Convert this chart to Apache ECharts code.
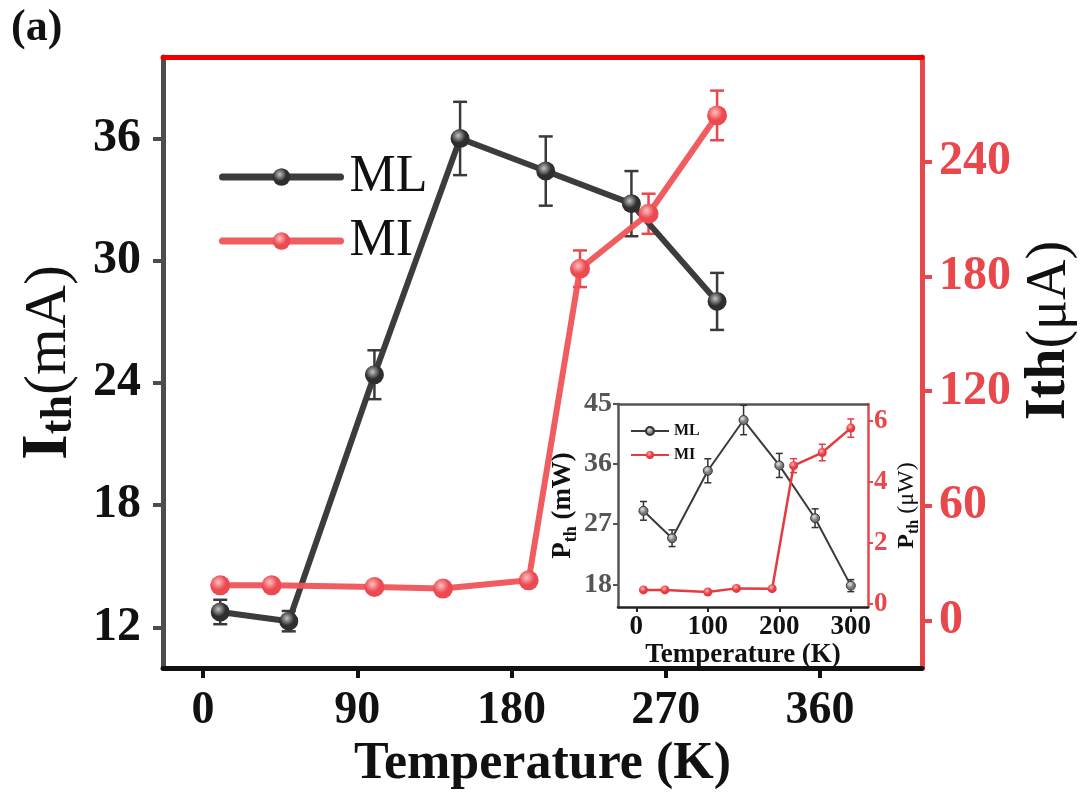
<!DOCTYPE html>
<html>
<head>
<meta charset="utf-8">
<script src="https://cdn.jsdelivr.net/npm/echarts@6/dist/echarts.min.js"></script>
<style>
  html, body { margin: 0; padding: 0; background: #fff; }
  #chart { width: 1080px; height: 799px; }
</style>
</head>
<body>
<div id="chart"></div>
<script>
// ---- Threshold current vs temperature (main panel) ----
const tempML = [10, 50, 100, 150, 200, 250, 300];
const ithML = [12.75, 12.3, 24.4, 36.0, 34.4, 32.8, 28.0];          // mA
const ithMLErr = [0.6, 0.5, 1.2, 1.8, 1.7, 1.6, 1.4];

const tempMI = [10, 40, 100, 140, 190, 220, 260, 300];
const ithMI = [18.3, 18.3, 17.4, 16.6, 20.9, 184.1, 212.9, 264.4];   // µA
const ithMIErr = [0, 0, 0, 0, 0, 9.6, 10.5, 13];

// ---- Threshold power vs temperature (inset) ----
const pTempML = [10, 50, 100, 150, 200, 250, 300];
const pML = [29.0, 24.9, 35.0, 42.6, 35.8, 27.9, 17.8];              // mW
const pMLErr = [1.4, 1.25, 1.8, 2.2, 1.8, 1.4, 0.9];

const pTempMI = [10, 40, 100, 140, 190, 220, 260, 300];
const pMI = [0.46, 0.46, 0.39, 0.51, 0.50, 4.53, 4.96, 5.76];         // µW
const pMIErr = [0, 0, 0, 0, 0, 0.23, 0.27, 0.3];

// ---- Tick labels ----
const xTicks = [0, 90, 180, 270, 360];
const yTicksLeft = [12, 18, 24, 30, 36];
const yTicksRight = [0, 60, 120, 180, 240];
const insetXTicks = [0, 100, 200, 300];
const insetYTicksLeft = [18, 27, 36, 45];
const insetYTicksRight = [0, 2, 4, 6];

const FONT = '"Liberation Serif", "Times New Roman", serif';
const GRAY_AXIS = '#4d4d4d';
const RED_AXIS = '#e8474c';
const RED_TOP = '#ee0000';
const ML_LINE = '#3c3c3c';
const MI_LINE = '#f05358';

const zip = (...cols) => cols[0].map((_, i) => cols.map(c => c[i]));

function sphere(light, dark) {
  return {
    type: 'radial', x: 0.4, y: 0.35, r: 0.7,
    colorStops: [{ offset: 0, color: light }, { offset: 0.55, color: dark }, { offset: 1, color: dark }]
  };
}

// vertical error bars with caps
function errorBars(color, capHalf, width) {
  return function (params, api) {
    const x = api.value(0), y = api.value(1), e = api.value(2);
    if (!e) return null;
    const top = api.coord([x, y + e]);
    const bot = api.coord([x, y - e]);
    const st = { stroke: color, lineWidth: width };
    return {
      type: 'group',
      children: [
        { type: 'line', shape: { x1: top[0], y1: top[1], x2: bot[0], y2: bot[1] }, style: st },
        { type: 'line', shape: { x1: top[0] - capHalf, y1: top[1], x2: top[0] + capHalf, y2: top[1] }, style: st },
        { type: 'line', shape: { x1: bot[0] - capHalf, y1: bot[1], x2: bot[0] + capHalf, y2: bot[1] }, style: st }
      ]
    };
  };
}

const chart = echarts.init(document.getElementById('chart'), null, { renderer: 'canvas' });

const option = {
  animation: false,
  backgroundColor: '#fff',
  textStyle: { fontFamily: FONT },
  title: {
    text: '(a)', left: 6, top: 2,
    textStyle: { fontFamily: FONT, fontSize: 44, fontWeight: 'bold', color: '#111' }
  },
  grid: [
    { left: 163, right: 158, top: 57, bottom: 131, containLabel: false, outerBoundsMode: 'none' },
    { left: 618, right: 212, top: 404, bottom: 192, containLabel: false, outerBoundsMode: 'none',
      show: true, backgroundColor: '#fff', borderWidth: 0 }
  ],
  legend: [
    {
      data: ['ML', 'MI'], orient: 'vertical', left: 214, top: 146,
      itemWidth: 118, itemHeight: 22, itemGap: 12,
      lineStyle: { width: 7, cap: 'round' },
      textStyle: { fontFamily: FONT, fontSize: 52, color: '#111', padding: [0, 0, 0, 4] }
    },
    {
      data: ['Pth ML', 'Pth MI'], orient: 'vertical', left: 625, top: 418,
      itemWidth: 38, itemHeight: 10, itemGap: 8,
      lineStyle: { width: 2 },
      formatter: n => n.replace('Pth ', ''),
      textStyle: { fontFamily: FONT, fontSize: 16, fontWeight: 'bold', color: '#111' }
    }
  ],
  xAxis: [
    {
      type: 'value', gridIndex: 0, min: -23.4, max: 419.6,
      name: 'Temperature (K)', nameLocation: 'middle', nameGap: 70,
      nameTextStyle: { fontFamily: FONT, fontSize: 52, fontWeight: 'bold', color: '#111' },
      axisLine: { show: true, onZero: false, lineStyle: { color: '#111', width: 5 } },
      axisTick: { show: true, length: 10, lineStyle: { color: '#111', width: 4 }, customValues: xTicks },
      axisLabel: { margin: 20, fontFamily: FONT, fontSize: 46, fontWeight: 'bold', color: '#111', customValues: xTicks },
      splitLine: { show: false }
    },
    {
      type: 'value', gridIndex: 0, position: 'top', min: -23.4, max: 419.6,
      axisLine: { show: true, onZero: false, lineStyle: { color: RED_TOP, width: 5 } },
      axisTick: { show: false }, axisLabel: { show: false }, splitLine: { show: false }
    },
    {
      type: 'value', gridIndex: 1, min: -25.6, max: 324,
      name: 'Temperature (K)', nameLocation: 'middle', nameGap: 27,
      nameTextStyle: { fontFamily: FONT, fontSize: 27, fontWeight: 'bold', color: '#111' },
      axisLine: { show: true, onZero: false, lineStyle: { color: '#222', width: 2.5 } },
      axisTick: { show: true, length: 5, lineStyle: { color: '#222', width: 2 }, customValues: insetXTicks },
      axisLabel: { margin: 7, fontFamily: FONT, fontSize: 27, fontWeight: 'bold', color: '#111', customValues: insetXTicks },
      splitLine: { show: false }
    },
    {
      type: 'value', gridIndex: 1, position: 'top', min: -25.6, max: 324,
      axisLine: { show: true, onZero: false, lineStyle: { color: '#555', width: 2.5 } },
      axisTick: { show: false }, axisLabel: { show: false }, splitLine: { show: false }
    }
  ],
  yAxis: [
    {
      type: 'value', gridIndex: 0, min: 10, max: 40, position: 'left',
      name: '{i|I}{s|th}{u|(mA)}', nameLocation: 'middle', nameGap: 76,
      nameTextStyle: {
        color: '#111',
        rich: {
          i: { fontFamily: FONT, fontSize: 66, fontWeight: 'bold', color: '#111', verticalAlign: 'middle', lineHeight: 66 },
          s: { fontFamily: FONT, fontSize: 44, fontWeight: 'bold', color: '#111', verticalAlign: 'bottom', lineHeight: 44, padding: [72, 0, 0, 0] },
          u: { fontFamily: FONT, fontSize: 60, color: '#111', verticalAlign: 'middle', lineHeight: 66 }
        }
      },
      axisLine: { show: true, onZero: false, lineStyle: { color: GRAY_AXIS, width: 5 } },
      axisTick: { show: true, length: 10, lineStyle: { color: GRAY_AXIS, width: 4 }, customValues: yTicksLeft },
      axisLabel: { margin: 22, fontFamily: FONT, fontSize: 48, fontWeight: 'bold', color: '#111', customValues: yTicksLeft },
      splitLine: { show: false }
    },
    {
      type: 'value', gridIndex: 0, min: -25, max: 295, position: 'right',
      name: '{b|Ith}{u|(μA)}', nameLocation: 'middle', nameGap: 92,
      nameTextStyle: {
        color: '#111',
        padding: [0, 0, 0, 64],
        rich: {
          b: { fontFamily: FONT, fontSize: 56, fontWeight: 'bold', color: '#111' },
          u: { fontFamily: FONT, fontSize: 56, color: '#111' }
        }
      },
      axisLine: { show: true, onZero: false, lineStyle: { color: RED_AXIS, width: 5 } },
      axisTick: { show: true, length: 10, lineStyle: { color: RED_AXIS, width: 4 }, customValues: yTicksRight },
      axisLabel: { margin: 17, fontFamily: FONT, fontSize: 48, fontWeight: 'bold', color: RED_AXIS, customValues: yTicksRight },
      splitLine: { show: false }
    },
    {
      type: 'value', gridIndex: 1, min: 14.6, max: 45, position: 'left',
      name: '{p|P}{s|th}{u| (mW)}', nameLocation: 'middle', nameGap: 34,
      nameTextStyle: {
        color: '#111',
        rich: {
          p: { fontFamily: FONT, fontSize: 27, fontWeight: 'bold', color: '#111', verticalAlign: 'middle' },
          s: { fontFamily: FONT, fontSize: 18, fontWeight: 'bold', color: '#111', verticalAlign: 'bottom', padding: [16, 0, 0, 0] },
          u: { fontFamily: FONT, fontSize: 27, fontWeight: 'bold', color: '#111', verticalAlign: 'middle' }
        }
      },
      axisLine: { show: true, onZero: false, lineStyle: { color: '#555', width: 2.5 } },
      axisTick: { show: true, length: 5, lineStyle: { color: '#555', width: 2 }, customValues: insetYTicksLeft },
      axisLabel: { margin: 6, fontFamily: FONT, fontSize: 28, fontWeight: 'bold', color: '#555', customValues: insetYTicksLeft },
      splitLine: { show: false }
    },
    {
      type: 'value', gridIndex: 1, min: -0.1, max: 6.55, position: 'right',
      name: '{p|P}{s|th}{u| (μW)}', nameLocation: 'middle', nameGap: 24,
      nameTextStyle: {
        color: '#111',
        rich: {
          p: { fontFamily: FONT, fontSize: 24, fontWeight: 'bold', color: '#111', verticalAlign: 'middle' },
          s: { fontFamily: FONT, fontSize: 16, fontWeight: 'bold', color: '#111', verticalAlign: 'bottom', padding: [14, 0, 0, 0] },
          u: { fontFamily: FONT, fontSize: 24, color: '#111', verticalAlign: 'middle' }
        }
      },
      axisLine: { show: true, onZero: false, lineStyle: { color: RED_AXIS, width: 2.5 } },
      axisTick: { show: true, length: 5, lineStyle: { color: RED_AXIS, width: 2 }, customValues: insetYTicksRight },
      axisLabel: { margin: 6, fontFamily: FONT, fontSize: 27, fontWeight: 'bold', color: RED_AXIS, customValues: insetYTicksRight },
      splitLine: { show: false }
    }
  ],
  series: [
    {
      type: 'custom', name: 'ML err', xAxisIndex: 0, yAxisIndex: 0, z: 1, silent: true,
      renderItem: errorBars('#3a3a3a', 7, 2.5), encode: { x: 0, y: 1 },
      data: zip(tempML, ithML, ithMLErr)
    },
    {
      type: 'line', name: 'ML', xAxisIndex: 0, yAxisIndex: 0, z: 3,
      data: zip(tempML, ithML),
      symbol: 'circle', symbolSize: 19, showAllSymbol: true,
      lineStyle: { color: ML_LINE, width: 6 },
      itemStyle: { color: sphere('#c4c4c4', '#2e2e2e') }
    },
    {
      type: 'custom', name: 'MI err', xAxisIndex: 0, yAxisIndex: 1, z: 1, silent: true,
      renderItem: errorBars(RED_AXIS, 7, 2.5), encode: { x: 0, y: 1 },
      data: zip(tempMI, ithMI, ithMIErr)
    },
    {
      type: 'line', name: 'MI', xAxisIndex: 0, yAxisIndex: 1, z: 4,
      data: zip(tempMI, ithMI),
      symbol: 'circle', symbolSize: 20, showAllSymbol: true,
      lineStyle: { color: MI_LINE, width: 6, opacity: 0.95 },
      itemStyle: { color: sphere('#ffc0c0', '#ec4a50') }
    },
    {
      type: 'custom', name: 'Pth ML err', xAxisIndex: 2, yAxisIndex: 2, z: 1, silent: true,
      renderItem: errorBars('#333', 3.5, 1.5), encode: { x: 0, y: 1 },
      data: zip(pTempML, pML, pMLErr)
    },
    {
      type: 'line', name: 'Pth ML', xAxisIndex: 2, yAxisIndex: 2, z: 3,
      data: zip(pTempML, pML),
      symbol: 'circle', symbolSize: 9, showAllSymbol: true,
      lineStyle: { color: '#3a3a3a', width: 2 },
      itemStyle: { color: sphere('#e6e6e6', '#777'), borderColor: '#333', borderWidth: 1 }
    },
    {
      type: 'custom', name: 'Pth MI err', xAxisIndex: 2, yAxisIndex: 3, z: 1, silent: true,
      renderItem: errorBars('#e53a40', 3.5, 1.5), encode: { x: 0, y: 1 },
      data: zip(pTempMI, pMI, pMIErr)
    },
    {
      type: 'line', name: 'Pth MI', xAxisIndex: 2, yAxisIndex: 3, z: 4,
      data: zip(pTempMI, pMI),
      symbol: 'circle', symbolSize: 9, showAllSymbol: true,
      lineStyle: { color: '#e53a40', width: 2.5 },
      itemStyle: { color: sphere('#ffb3b3', '#e53a40') }
    }
  ]
};

chart.setOption(option);
</script>
</body>
</html>
